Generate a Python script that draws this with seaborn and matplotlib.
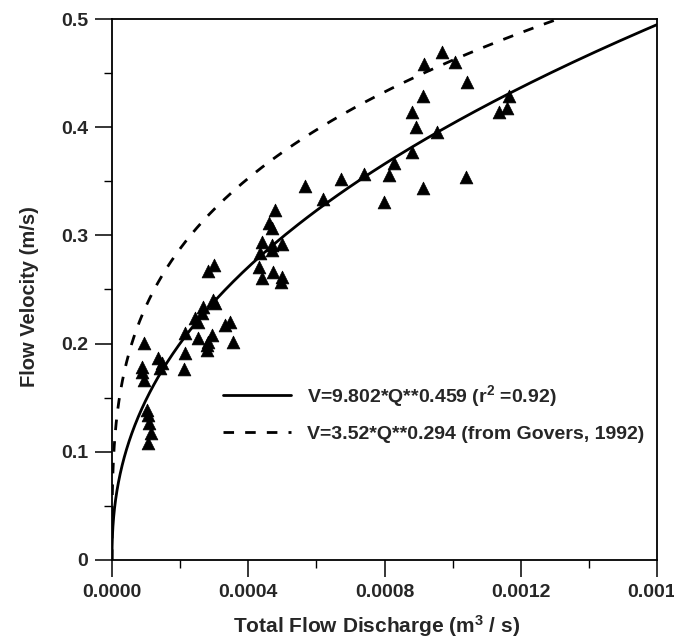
import numpy as np
import pandas as pd
import matplotlib
matplotlib.use("Agg")
import matplotlib.pyplot as plt
import seaborn as sns
from matplotlib.ticker import FixedLocator, MultipleLocator
from matplotlib.lines import Line2D

# ---------------- data ----------------
discharge = [
    0.0000948, 0.0000890, 0.0000939, 0.0000895, 0.000136, 0.000146, 0.000141,
    0.000102, 0.000107, 0.000110, 0.000114, 0.000105,
    0.000214, 0.000214, 0.000211, 0.000244, 0.000253, 0.000263, 0.000268,
    0.000252, 0.000278, 0.000278, 0.000293, 0.000282, 0.000297, 0.000302,
    0.000332, 0.000346, 0.000356, 0.000300, 0.000283,
    0.000434, 0.000469, 0.000432, 0.000439, 0.000474, 0.000498, 0.000496,
    0.000439, 0.000469, 0.000498, 0.000479, 0.000462, 0.000469,
    0.000567, 0.000620, 0.000672, 0.000741, 0.000813, 0.000829, 0.000799,
    0.000880, 0.000914, 0.000892, 0.000882, 0.000912, 0.000953, 0.000916,
    0.000970, 0.001007, 0.001041, 0.001039, 0.001136, 0.001159, 0.001166,
]
velocity = [
    0.2008, 0.1786, 0.1664, 0.1740, 0.1864, 0.1818, 0.1772,
    0.1386, 0.1340, 0.1263, 0.1177, 0.1084,
    0.2095, 0.1910, 0.1765, 0.2234, 0.2202, 0.2280, 0.2341,
    0.2049, 0.1987, 0.1941, 0.2079, 0.2015, 0.2403, 0.2372,
    0.2172, 0.2202, 0.2018, 0.2726, 0.2674,
    0.2835, 0.2865, 0.2711, 0.2604, 0.2665, 0.2618, 0.2572,
    0.2942, 0.2911, 0.2918, 0.3235, 0.3117, 0.3066,
    0.3459, 0.3334, 0.3518, 0.3567, 0.3558, 0.3666, 0.3306,
    0.3774, 0.3435, 0.3999, 0.4143, 0.4288, 0.3958, 0.4584,
    0.4692, 0.4600, 0.4421, 0.3543, 0.4143, 0.4175, 0.4288,
]

# power-law curves V = a * Q ** b, parameters
fit_coef, fit_exp = 8.14, 0.435
govers_coef, govers_exp = 3.52, 0.294

fit_label = "V=9.802*Q**0.459 (r$^2$ =0.92)"
govers_label = "V=3.52*Q**0.294 (from Govers, 1992)"

x_ticks = [0.0, 0.0004, 0.0008, 0.0012, 0.0016]
x_tick_labels = ["0.0000", "0.0004", "0.0008", "0.0012", "0.0016"]
y_ticks = [0.0, 0.1, 0.2, 0.3, 0.4, 0.5]
y_tick_labels = ["0", "0.1", "0.2", "0.3", "0.4", "0.5"]

x_label = "Total Flow Discharge (m$^{3}$ / s)"
y_label = "Flow Velocity (m/s)"

# ---------------- figure ----------------
sns.set_style("ticks")
plt.rcParams["font.family"] = ["Liberation Sans", "DejaVu Sans"]
plt.rcParams["font.weight"] = "bold"
plt.rcParams["mathtext.fontset"] = "custom"
plt.rcParams["mathtext.rm"] = "Liberation Sans:bold"
plt.rcParams["mathtext.default"] = "rm"

W, H = 674, 641
fig = plt.figure(figsize=(W / 100, H / 100), dpi=100)
ax = fig.add_axes([112 / W, 81 / H, 545 / W, 541 / H])

points = pd.DataFrame({"Q": discharge, "V": velocity})
sns.scatterplot(data=points, x="Q", y="V", marker="^", s=85, color="black",
                edgecolor="black", linewidth=0.5, ax=ax, legend=False, zorder=3)

q = np.concatenate([[0.0], np.geomspace(1e-9, x_ticks[-1], 600)])
fit_df = pd.DataFrame({"Q": q, "V": fit_coef * q ** fit_exp})
gov_df = pd.DataFrame({"Q": q, "V": govers_coef * q ** govers_exp})
sns.lineplot(data=fit_df, x="Q", y="V", color="black", lw=2.0,
             sort=False, estimator=None, ax=ax, legend=False)
sns.lineplot(data=gov_df, x="Q", y="V", color="black", lw=2.0,
             sort=False, estimator=None, ax=ax, legend=False)
ax.lines[-1].set_dashes((3.8, 4.0))

ax.set_xlim(x_ticks[0], x_ticks[-1])
ax.set_ylim(y_ticks[0], y_ticks[-1])
ax.xaxis.set_major_locator(FixedLocator(x_ticks))
ax.set_xticklabels(x_tick_labels)
ax.yaxis.set_major_locator(FixedLocator(y_ticks))
ax.set_yticklabels(y_tick_labels)
ax.xaxis.set_minor_locator(MultipleLocator(0.0002))
ax.yaxis.set_minor_locator(MultipleLocator(0.05))
ax.tick_params(which="major", length=12, width=1.1, labelsize=14, pad=5,
               direction="out", color="black")
ax.tick_params(which="minor", length=6, width=1.0, direction="out", color="black")
ax.tick_params(top=False, right=False, which="both")
for sp in ax.spines.values():
    sp.set_visible(True)
    sp.set_linewidth(1.3)
    sp.set_color("black")

ax.set_xlabel(x_label, fontsize=15, fontweight="bold")
ax.set_ylabel(y_label, fontsize=14.5, fontweight="bold")
ax.xaxis.set_label_coords(0.486, -0.122)
ax.yaxis.set_label_coords(-0.152, 0.487)
ax.yaxis.label.set_verticalalignment("center")
ax.xaxis.label.set_verticalalignment("center")

handles = [Line2D([], [], color="black", lw=2.0),
           Line2D([], [], color="black", lw=2.0, dashes=(3.8, 4.0))]
ax.legend(handles, [fit_label, govers_label], loc="upper left",
          bbox_to_anchor=((223 - 112) / 545, (560 - 383) / 541),
          frameon=False, prop={"size": 14, "weight": "bold"},
          handlelength=3.5, handletextpad=0.8,
          labelspacing=0.85, borderpad=0, borderaxespad=0)

fig.savefig("out.png", dpi=100, facecolor="white")
